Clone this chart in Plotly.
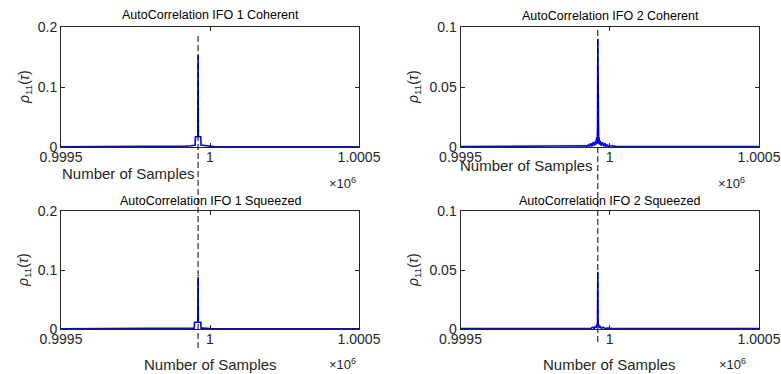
import plotly.graph_objects as go

# ---------------- data ----------------
center_sample = 999960
x_range = [999500, 1000500]
x_tickvals = [999500, 1000000, 1000500]
x_ticktext = ["0.9995", "1", "1.0005"]

titles = ["AutoCorrelation IFO 1 Coherent", "AutoCorrelation IFO 2 Coherent",
          "AutoCorrelation IFO 1 Squeezed", "AutoCorrelation IFO 2 Squeezed"]

y_ranges = [[0, 0.2], [0, 0.1], [0, 0.2], [0, 0.1]]
y_tickvals = [[0, 0.1, 0.2], [0, 0.05, 0.1], [0, 0.1, 0.2], [0, 0.05, 0.1]]
y_ticktext = [["0", "0.1", "0.2"], ["0", "0.05", "0.1"], ["0", "0.1", "0.2"], ["0", "0.05", "0.1"]]

# lag offsets (samples relative to centre) and autocorrelation values
ifo1_coh_lag = [-460, -55, -40, -25, -15, -10, -9, -1, 0, 1, 9, 10, 15, 25, 40, 57, 540]
ifo1_coh_rho = [0.0003, 0.0005, 0.0015, 0.002, 0.003, 0.003, 0.017, 0.017, 0.153,
                0.017, 0.017, 0.003, 0.003, 0.002, 0.0015, 0.0005, 0.0003]

ifo2_coh_lag = [-460, -60, -40, -36, -32, -28, -24, -20, -16, -12, -8, -6, -4, -3, -2, -1, 0,
                1, 2, 3, 4, 6, 8, 12, 16, 20, 24, 28, 32, 36, 40, 60, 540]
ifo2_coh_rho = [0.0003, 0.0005, 0.001, 0.0002, 0.002, 0.0003, 0.003, 0.0005, 0.004, 0.001,
                0.005, 0.002, 0.008, 0.003, 0.011, 0.012, 0.090,
                0.012, 0.011, 0.003, 0.008, 0.002, 0.005, 0.001, 0.004, 0.0005, 0.003,
                0.0003, 0.002, 0.0002, 0.001, 0.0005, 0.0003]

ifo1_sq_lag = [-460, -50, -30, -18, -13, -12, -1, 0, 1, 9, 10, 18, 30, 50, 540]
ifo1_sq_rho = [0.0003, 0.0004, 0.001, 0.0015, 0.0015, 0.0114, 0.0114, 0.0886,
               0.0114, 0.0114, 0.0015, 0.0015, 0.001, 0.0004, 0.0003]

ifo2_sq_lag = [-460, -50, -30, -24, -18, -12, -8, -5, -3, -2, -1, 0, 1, 2, 3, 5, 8, 12,
               18, 24, 30, 50, 540]
ifo2_sq_rho = [0.0003, 0.0004, 0.0008, 0.0003, 0.0015, 0.0005, 0.0025, 0.001, 0.004,
               0.002, 0.006, 0.0486, 0.006, 0.002, 0.004, 0.001, 0.0025, 0.0005,
               0.0015, 0.0003, 0.0008, 0.0004, 0.0003]

series = [(ifo1_coh_lag, ifo1_coh_rho), (ifo2_coh_lag, ifo2_coh_rho),
          (ifo1_sq_lag, ifo1_sq_rho), (ifo2_sq_lag, ifo2_sq_rho)]

# ---------------- layout helpers ----------------
W, H = 781, 374
def px(x):
    return x / W
def py(y):
    return 1 - y / H

# axes boxes in pixels: (left, right, top, bottom)
boxes = [(61, 359, 27, 147), (460.5, 759, 27, 147),
         (61, 359, 211, 329), (460.5, 759, 211, 329)]

AX = "#262626"
FONT = "Liberation Sans, Arial, Helvetica, sans-serif"

fig = go.Figure()
layout = dict(width=W, height=H, margin=dict(l=0, r=0, t=0, b=0, autoexpand=False),
              template="none", autosize=False,
              paper_bgcolor="white", plot_bgcolor="white", showlegend=False,
              font=dict(family=FONT, color=AX))

annotations = []
shapes = []
for i, ((lag, rho), box) in enumerate(zip(series, boxes)):
    n = "" if i == 0 else str(i + 1)
    xs = [center_sample + l for l in lag]
    fig.add_trace(go.Scatter(x=xs, y=rho, mode="lines",
                             line=dict(color="#0000ff", width=1.6),
                             xaxis="x" + n, yaxis="y" + n, hoverinfo="skip"))
    l, r, t, b = box
    common = dict(showgrid=False, zeroline=False, showline=True, linecolor=AX,
                  linewidth=1, mirror="ticks", ticks="inside", ticklen=4,
                  tickcolor=AX, automargin=False,
                  tickfont=dict(family=FONT, size=14, color=AX))
    layout["xaxis" + n] = dict(domain=[px(l), px(r)], range=x_range,
                               tickvals=x_tickvals, ticktext=x_ticktext,
                               ticklabelstandoff=-3,
                               anchor="y" + n, **common)
    layout["yaxis" + n] = dict(domain=[py(b), py(t)], range=y_ranges[i],
                               tickvals=y_tickvals[i], ticktext=y_ticktext[i],
                               anchor="x" + n, **common)

def ann(text, x, y, size, color=AX, angle=0):
    return dict(text=text, x=px(x), y=py(y), xref="paper", yref="paper",
                xanchor="center", yanchor="middle", showarrow=False, textangle=angle,
                font=dict(family=FONT, size=size, color=color))

# titles
title_pos = [(210, 15), (610, 16), (210, 201), (609, 201)]
for txt, (x, y) in zip(titles, title_pos):
    annotations.append(ann(txt, x, y, 12.5, "#000000"))

# x labels
xlab_pos = [(128, 173), (526, 165), (210, 364), (609, 364)]
for (x, y) in xlab_pos:
    annotations.append(ann("Number of Samples", x, y, 15))

# exponent labels
exp_pos = [(342, 183), (731, 183), (342, 364), (732, 364)]
for (x, y) in exp_pos:
    annotations.append(ann("×10<sup>6</sup>", x, y, 13))

# y labels
ylab_pos = [(25, 87), (414, 87), (24, 270), (414, 270)]
for (x, y) in ylab_pos:
    annotations.append(ann("<i>ρ</i><sub>11</sub>(<i>τ</i>)", x, y, 14, angle=-90))

# dashed marker lines through both rows
shapes.append(dict(type="line", xref="x", yref="paper", x0=center_sample, x1=center_sample,
                   y0=py(348), y1=py(33), line=dict(color="#000000", width=1, dash="6px,3px")))
shapes.append(dict(type="line", xref="x2", yref="paper", x0=center_sample, x1=center_sample,
                   y0=py(342), y1=py(30), line=dict(color="#000000", width=1, dash="6px,3px")))

layout["annotations"] = annotations
layout["shapes"] = shapes
fig.update_layout(**layout)
fig.write_html("out.html", config={"displayModeBar": False},
               post_script="document.body.style.margin='0px';document.body.style.padding='0px';")
